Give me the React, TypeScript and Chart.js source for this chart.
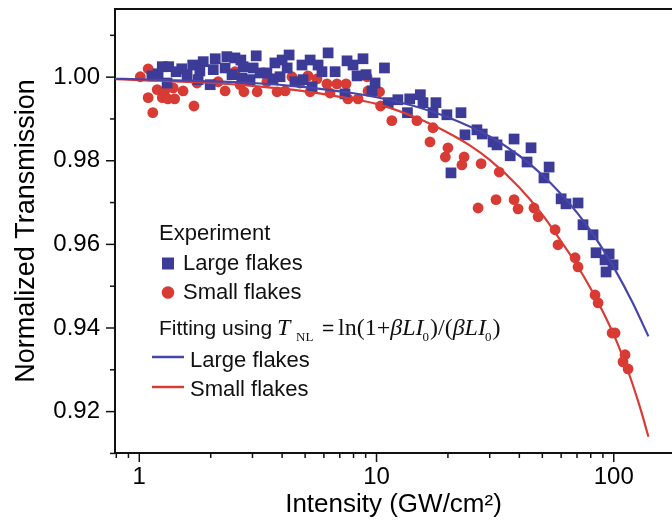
import React, { useEffect, useRef } from 'react';
import { Chart, registerables } from 'chart.js';

Chart.register(...registerables);

// ---- data (Intensity in GW/cm², normalized transmission) ----
const largeI = [1.13, 1.20, 1.25, 1.33, 1.31, 1.43, 1.51, 1.59, 1.68, 1.80, 1.77, 1.86, 1.99, 2.05, 2.09, 2.30, 2.34, 2.46, 2.53, 2.68, 2.74, 2.71, 2.93, 3.02, 3.11, 3.23, 3.45, 3.66, 3.73, 3.92, 4.00, 4.20, 4.28, 4.53, 4.85, 4.90, 5.25, 5.35, 5.67, 5.89, 6.25, 6.69, 7.36, 7.51, 7.96, 8.28, 8.77, 9.03, 9.57, 9.86, 10.8, 11.2, 12.3, 13.5, 13.8, 15.3, 15.7, 17.3, 17.8, 19.8, 20.6, 22.7, 23.6, 26.5, 27.9, 31.0, 32.2, 36.6, 38.0, 43.1, 44.8, 50.8, 53.4, 60.0, 62.9, 70.7, 74.2, 81.8, 84.2, 91.9, 95.6, 99.3, 92.8];
const largeT = [1.0003, 1.0008, 1.0025, 1.0025, 0.9986, 1.0013, 1.0020, 1.0006, 1.0029, 1.0015, 0.9994, 1.0037, 0.9982, 1.0018, 1.0044, 1.0022, 1.0049, 1.0006, 1.0046, 1.0041, 1.0025, 0.9998, 0.9994, 1.0022, 1.0051, 1.0010, 1.0010, 0.9996, 1.0034, 1.0001, 1.0041, 1.0022, 1.0053, 0.9989, 1.0029, 0.9994, 1.0041, 0.9977, 1.0029, 1.0013, 1.0058, 1.0013, 0.9960, 1.0039, 1.0029, 1.0003, 1.0044, 1.0006, 0.9967, 0.9986, 1.0022, 0.9939, 0.9946, 0.9915, 0.9948, 0.9958, 0.9939, 0.9915, 0.9939, 0.9910, 0.9771, 0.9915, 0.9862, 0.9874, 0.9864, 0.9845, 0.9838, 0.9812, 0.9852, 0.9797, 0.9831, 0.9759, 0.9785, 0.9709, 0.9697, 0.9699, 0.9647, 0.9623, 0.9580, 0.9563, 0.9577, 0.9551, 0.9534];

const smallI = [1.01, 1.09, 1.09, 1.14, 1.19, 1.25, 1.28, 1.32, 1.39, 1.41, 1.53, 1.70, 1.75, 2.15, 2.30, 2.53, 2.66, 2.76, 3.14, 3.45, 3.81, 4.12, 4.40, 4.76, 5.14, 5.25, 5.61, 6.18, 6.37, 6.81, 7.44, 7.58, 8.36, 9.12, 9.21, 10.3, 10.4, 11.6, 14.8, 17.3, 16.8, 20.0, 19.5, 23.4, 22.9, 27.6, 32.9, 26.8, 31.9, 38.0, 39.5, 46.1, 48.0, 56.6, 58.2, 68.7, 70.7, 83.4, 85.9, 98.4, 101.3, 111.6, 109.4, 114.9];
const smallT = [1.0001, 1.0020, 0.9951, 0.9915, 0.9970, 0.9951, 0.9967, 0.9948, 0.9974, 0.9948, 0.9967, 0.9931, 0.9986, 0.9989, 0.9967, 1.0013, 0.9982, 0.9965, 0.9965, 0.9989, 0.9965, 0.9967, 1.0001, 0.9986, 1.0003, 0.9965, 0.9996, 0.9984, 0.9962, 0.9984, 0.9984, 0.9948, 0.9948, 1.0001, 0.9967, 0.9965, 0.9931, 0.9896, 0.9896, 0.9879, 0.9845, 0.9831, 0.9809, 0.9809, 0.9790, 0.9793, 0.9773, 0.9687, 0.9707, 0.9707, 0.9685, 0.9687, 0.9666, 0.9635, 0.9599, 0.9568, 0.9546, 0.9479, 0.9460, 0.9388, 0.9388, 0.9336, 0.9319, 0.9302];

const fitLargeI = [0.79, 1, 2, 3, 5, 7, 10, 15, 20, 30, 40, 50, 60, 70, 80, 90, 100, 120, 140];
const fitLargeT = [0.9996, 0.9995, 0.9990, 0.9986, 0.9976, 0.9966, 0.9952, 0.9928, 0.9904, 0.9858, 0.9812, 0.9766, 0.9720, 0.9676, 0.9632, 0.9588, 0.9545, 0.9461, 0.9380];

const fitSmallI = [0.79, 1, 2, 3, 5, 7, 10, 15, 20, 25, 30, 40, 50, 60, 70, 80, 90, 100, 110, 120, 130, 140];
const fitSmallT = [0.9995, 0.9993, 0.9986, 0.9979, 0.9966, 0.9953, 0.9936, 0.9901, 0.9867, 0.9835, 0.9802, 0.9736, 0.9671, 0.9607, 0.9550, 0.9494, 0.9439, 0.9384, 0.9326, 0.9266, 0.9204, 0.9140];

const xMajorTicks = [1, 10, 100];
const xMinorTicks = [0.8, 0.9, 2, 3, 4, 5, 6, 7, 8, 9, 20, 30, 40, 50, 60, 70, 80, 90];
const yMajorTicks = [0.92, 0.94, 0.96, 0.98, 1.0];
const yMinorTicks = [0.91, 0.93, 0.95, 0.97, 0.99, 1.01];

const xTitle = 'Intensity (GW/cm²)';
const yTitle = 'Normalized Transmission';

const SANS = '"Liberation Sans", Arial, Helvetica, sans-serif';
const SERIF = '"Liberation Serif", "Times New Roman", serif';
const BLUE = '#3c3b98';
const RED = '#d83a34';
const BLUE_LINE = '#4646a8';
const RED_LINE = '#da3b35';
const INK = '#111111';

const overlay = {
  id: 'overlay',
  afterDraw(chart: any) {
    const ctx = chart.ctx as CanvasRenderingContext2D;
    const xs = chart.scales.x;
    const ys = chart.scales.y;
    ctx.save();
    ctx.strokeStyle = INK;
    ctx.lineWidth = 1.5;
    // y ticks
    const yl = ys.right;
    const tickY = (v: number, len: number) => {
      const p = ys.getPixelForValue(v);
      ctx.beginPath();
      ctx.moveTo(yl - len, p);
      ctx.lineTo(yl, p);
      ctx.stroke();
    };
    yMajorTicks.forEach((v) => tickY(v, 9));
    yMinorTicks.forEach((v) => tickY(v, 5));
    // x ticks
    const xb = xs.top;
    const tickX = (v: number, len: number) => {
      const p = xs.getPixelForValue(v);
      ctx.beginPath();
      ctx.moveTo(p, xb);
      ctx.lineTo(p, xb + len);
      ctx.stroke();
    };
    xMajorTicks.forEach((v) => tickX(v, 9));
    xMinorTicks.forEach((v) => tickX(v, 5));

    // legend
    ctx.fillStyle = INK;
    ctx.textAlign = 'left';
    ctx.textBaseline = 'alphabetic';
    ctx.font = `22px ${SANS}`;
    ctx.fillText('Experiment', 159, 240);
    ctx.fillStyle = BLUE;
    ctx.fillRect(162, 257.5, 12, 12);
    ctx.fillStyle = INK;
    ctx.fillText('Large flakes', 183, 269.5);
    ctx.fillStyle = RED;
    ctx.beginPath();
    ctx.arc(168, 292.5, 6.3, 0, Math.PI * 2);
    ctx.fill();
    ctx.fillStyle = INK;
    ctx.fillText('Small flakes', 183, 298.5);

    ctx.font = `21px ${SANS}`;
    ctx.fillText('Fitting using', 159, 335);
    const base = 335;
    const put = (t: string, font: string, x: number, y: number) => {
      ctx.font = font;
      ctx.fillText(t, x, y);
      return x + ctx.measureText(t).width;
    };
    put('T', `italic 24px ${SERIF}`, 277, base);
    put('NL', `13px ${SERIF}`, 296, base + 6);
    put('=', `21px ${SANS}`, 322, base);
    let x = put('ln(1+', `24px ${SERIF}`, 338, base);
    x = put('βLI', `italic 24px ${SERIF}`, x, base);
    x = put('0', `13px ${SERIF}`, x - 1, base + 6);
    x = put(')/(', `24px ${SERIF}`, x + 1, base);
    x = put('βLI', `italic 24px ${SERIF}`, x, base);
    x = put('0', `13px ${SERIF}`, x - 1, base + 6);
    put(')', `24px ${SERIF}`, x + 1, base);

    ctx.lineWidth = 2.5;
    ctx.strokeStyle = BLUE_LINE;
    ctx.beginPath();
    ctx.moveTo(152, 357);
    ctx.lineTo(184, 357);
    ctx.stroke();
    ctx.strokeStyle = RED_LINE;
    ctx.beginPath();
    ctx.moveTo(152, 387);
    ctx.lineTo(184, 387);
    ctx.stroke();
    ctx.fillStyle = INK;
    ctx.font = `22px ${SANS}`;
    ctx.fillText('Large flakes', 190, 367);
    ctx.fillText('Small flakes', 190, 396);
    ctx.restore();
  },
};

export default function App() {
  const ref = useRef<HTMLCanvasElement>(null);
  useEffect(() => {
    const canvas = ref.current;
    if (!canvas) return;
    const chart = new Chart(canvas, {
      type: 'scatter',
      data: {
        datasets: [
          {
            label: 'Large flakes fit',
            data: fitLargeI.map((v, i) => ({ x: v, y: fitLargeT[i] })),
            showLine: true,
            borderColor: BLUE_LINE,
            borderWidth: 2.2,
            pointRadius: 0,
            cubicInterpolationMode: 'monotone',
            order: 0,
          },
          {
            label: 'Small flakes fit',
            data: fitSmallI.map((v, i) => ({ x: v, y: fitSmallT[i] })),
            showLine: true,
            borderColor: RED_LINE,
            borderWidth: 2.2,
            pointRadius: 0,
            cubicInterpolationMode: 'monotone',
            order: 1,
          },
          {
            label: 'Large flakes',
            data: largeI.map((v, i) => ({ x: v, y: largeT[i] })),
            pointStyle: 'rect',
            pointRadius: 7.6,
            backgroundColor: BLUE,
            borderWidth: 0,
            order: 2,
          },
          {
            label: 'Small flakes',
            data: smallI.map((v, i) => ({ x: v, y: smallT[i] })),
            pointStyle: 'circle',
            pointRadius: 5.4,
            backgroundColor: RED,
            borderWidth: 0,
            order: 3,
          },
        ] as any,
      },
      options: {
        animation: false,
        responsive: false,
        devicePixelRatio: 1,
        events: [],
        layout: { autoPadding: false, padding: { top: 9, left: 0, right: 0, bottom: 0 } },
        plugins: { legend: { display: false }, tooltip: { enabled: false } },
        scales: {
          x: {
            type: 'logarithmic',
            position: 'bottom',
            min: 0.79,
            max: 176,
            grid: { display: false, drawTicks: false },
            border: { display: true, color: INK, width: 2 },
            afterBuildTicks: (s: any) => {
              s.ticks = xMajorTicks.map((v) => ({ value: v }));
            },
            ticks: {
              autoSkip: false,
              maxRotation: 0,
              padding: 10,
              color: '#000',
              font: { family: SANS, size: 24 },
              callback: (v: any) => String(v),
            },
            title: {
              display: true,
              text: xTitle,
              color: '#000',
              font: { family: SANS, size: 26 },
              padding: { top: 0, bottom: 3 },
            },
            afterFit: (s: any) => {
              s.height = 70;
              s.paddingLeft = 0;
              s.paddingRight = 0;
            },
          },
          xTop: {
            type: 'linear',
            position: 'top',
            min: 0,
            max: 1,
            grid: { display: false, drawTicks: false },
            border: { display: true, color: INK, width: 2 },
            ticks: { display: false },
            afterFit: (s: any) => {
              s.height = 0;
              s.paddingLeft = 0;
              s.paddingRight = 0;
            },
          },
          y: {
            type: 'linear',
            position: 'left',
            min: 0.9101,
            max: 1.0163,
            grid: { display: false, drawTicks: false },
            border: { display: true, color: INK, width: 2 },
            afterBuildTicks: (s: any) => {
              s.ticks = yMajorTicks.map((v) => ({ value: v }));
            },
            ticks: {
              padding: 15,
              color: '#000',
              font: { family: SANS, size: 24 },
              callback: (v: any) => Number(v).toFixed(2),
            },
            title: {
              display: true,
              text: yTitle,
              color: '#000',
              font: { family: SANS, size: 27 },
              padding: { top: 10, bottom: 0 },
            },
            afterFit: (s: any) => {
              s.width = 115;
              s.paddingTop = 0;
              s.paddingBottom = 0;
            },
          },
        } as any,
      },
      plugins: [overlay],
    });
    return () => chart.destroy();
  }, []);
  return (
    <div style={{ position: 'absolute', left: 0, top: 0, width: 672, height: 523, background: '#fff' }}>
      <canvas ref={ref} width={672} height={523} style={{ display: 'block' }} />
    </div>
  );
}
